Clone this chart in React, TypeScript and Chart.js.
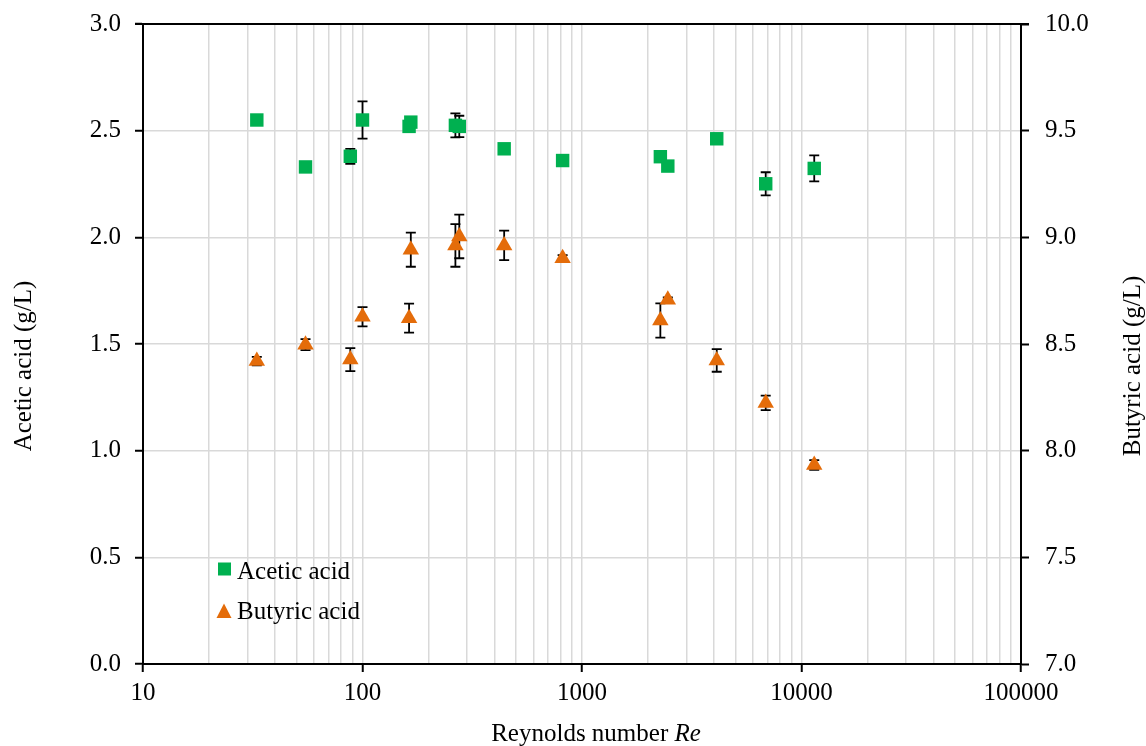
import React, { useEffect, useRef } from 'react';
import { Chart, registerables } from 'chart.js';

Chart.register(...registerables);

// ---- Data ----
const reynolds = [33, 55, 88, 100, 163, 166, 265, 276, 442, 816, 2275, 2460, 4110, 6870, 11430];
const aceticAcid = [2.55, 2.33, 2.38, 2.55, 2.52, 2.54, 2.525, 2.52, 2.415, 2.36, 2.378, 2.334, 2.462, 2.251, 2.323];
const aceticError = [0.01, 0.01, 0.035, 0.087, 0.02, 0.02, 0.056, 0.05, 0.01, 0.01, 0.01, 0.01, 0.02, 0.054, 0.061];
const butyricAcid = [8.42, 8.497, 8.427, 8.628, 8.621, 8.942, 8.962, 9.004, 8.962, 8.902, 8.61, 8.708, 8.423, 8.224, 7.933];
const butyricError = [0.02, 0.026, 0.054, 0.045, 0.068, 0.08, 0.1, 0.102, 0.069, 0.015, 0.08, 0.01, 0.053, 0.034, 0.023];

const xMajorTicks = [10, 100, 1000, 10000, 100000];
const leftTicks = [0, 0.5, 1, 1.5, 2, 2.5, 3];
const rightTicks = [7, 7.5, 8, 8.5, 9, 9.5, 10];

const seriesNames = ['Acetic acid', 'Butyric acid'];
const GREEN = '#00B050';
const ORANGE = '#E46C0A';
const FONT = "'Liberation Serif', 'Times New Roman', serif";
const FONT_SIZE = 25;

const xAllTicks: number[] = [];
for (let i = 0; i < xMajorTicks.length - 1; i++) {
  for (let m = 1; m <= 9; m++) xAllTicks.push(xMajorTicks[i] * m);
}
xAllTicks.push(xMajorTicks[xMajorTicks.length - 1]);

const errorLists: number[][] = [aceticError, butyricError];

const errorBarPlugin = {
  id: 'errorBars',
  beforeDatasetsDraw(chart: any) {
    const ctx = chart.ctx;
    const xScale = chart.scales.x;
    ctx.save();
    ctx.strokeStyle = '#000';
    ctx.lineWidth = 1.8;
    chart.data.datasets.forEach((ds: any, i: number) => {
      const yScale = chart.scales[ds.yAxisID];
      const errs = errorLists[i];
      ds.data.forEach((p: any, j: number) => {
        const e = errs[j];
        const x = xScale.getPixelForValue(p.x);
        const yt = yScale.getPixelForValue(p.y + e);
        const yb = yScale.getPixelForValue(p.y - e);
        const cap = 5;
        ctx.beginPath();
        ctx.moveTo(x, yt);
        ctx.lineTo(x, yb);
        ctx.moveTo(x - cap, yt);
        ctx.lineTo(x + cap, yt);
        ctx.moveTo(x - cap, yb);
        ctx.lineTo(x + cap, yb);
        ctx.stroke();
      });
    });
    ctx.restore();
  },
};

const annotationPlugin = {
  id: 'annotations',
  afterDraw(chart: any) {
    const ctx = chart.ctx;
    const area = chart.chartArea;
    ctx.save();
    ctx.fillStyle = '#000';
    ctx.font = `${FONT_SIZE}px ${FONT}`;
    ctx.textBaseline = 'middle';

    // Left axis title
    ctx.save();
    ctx.translate(24, 366);
    ctx.rotate(-Math.PI / 2);
    ctx.textAlign = 'center';
    ctx.fillText('Acetic acid (g/L)', 0, 0);
    ctx.restore();

    // Right axis title (reads bottom to top)
    ctx.save();
    ctx.translate(1133, 366);
    ctx.rotate(-Math.PI / 2);
    ctx.textAlign = 'center';
    ctx.fillText('Butyric acid (g/L)', 0, 0);
    ctx.restore();

    // X axis title with italic "Re"
    const part1 = 'Reynolds number ';
    const part2 = 'Re';
    ctx.font = `${FONT_SIZE}px ${FONT}`;
    const w1 = ctx.measureText(part1).width;
    ctx.font = `italic ${FONT_SIZE}px ${FONT}`;
    const w2 = ctx.measureText(part2).width;
    const cx = 596;
    const startX = cx - (w1 + w2) / 2;
    ctx.textAlign = 'left';
    ctx.textBaseline = 'alphabetic';
    ctx.font = `${FONT_SIZE}px ${FONT}`;
    ctx.fillText(part1, startX, 741);
    ctx.font = `italic ${FONT_SIZE}px ${FONT}`;
    ctx.fillText(part2, startX + w1, 741);

    // Legend
    ctx.font = `${FONT_SIZE}px ${FONT}`;
    ctx.fillStyle = GREEN;
    ctx.fillRect(218, 562.5, 13, 13);
    ctx.fillStyle = ORANGE;
    ctx.beginPath();
    ctx.moveTo(224, 603.5);
    ctx.lineTo(231.5, 618);
    ctx.lineTo(216.5, 618);
    ctx.closePath();
    ctx.fill();
    ctx.fillStyle = '#000';
    ctx.fillText(seriesNames[0], 237, 579);
    ctx.fillText(seriesNames[1], 237, 619);

    // Top border of plot area
    ctx.strokeStyle = '#000';
    ctx.lineWidth = 2;
    ctx.beginPath();
    ctx.moveTo(area.left - 8, area.top);
    ctx.lineTo(area.right + 8, area.top);
    ctx.stroke();
    ctx.restore();
  },
};

export default function App() {
  const canvasRef = useRef<HTMLCanvasElement | null>(null);

  useEffect(() => {
    const canvas = canvasRef.current;
    if (!canvas) return;
    const tickFont = { family: FONT, size: FONT_SIZE };
    const chart = new Chart(canvas, {
      type: 'scatter',
      data: {
        datasets: [
          {
            label: seriesNames[0],
            data: reynolds.map((x, i) => ({ x, y: aceticAcid[i] })),
            yAxisID: 'y',
            pointStyle: 'rect',
            pointRadius: 9.5,
            backgroundColor: GREEN,
            borderColor: GREEN,
            borderWidth: 0,
          },
          {
            label: seriesNames[1],
            data: reynolds.map((x, i) => ({ x, y: butyricAcid[i] })),
            yAxisID: 'y2',
            pointStyle: 'triangle',
            pointRadius: 9.5,
            backgroundColor: ORANGE,
            borderColor: ORANGE,
            borderWidth: 0,
          },
        ],
      },
      options: {
        responsive: false,
        animation: false,
        devicePixelRatio: 1,
        layout: { padding: { top: 24, left: 0, right: 0, bottom: 0 } },
        plugins: {
          legend: { display: false },
          tooltip: { enabled: false },
        },
        scales: {
          x: {
            type: 'logarithmic',
            position: 'bottom',
            min: 10,
            max: 100000,
            afterBuildTicks: (scale: any) => {
              scale.ticks = xAllTicks.map((v) => ({ value: v, major: xMajorTicks.includes(v) }));
            },
            afterFit: (scale: any) => {
              scale.height = 82;
            },
            ticks: {
              autoSkip: false,
              maxRotation: 0,
              color: '#000',
              font: tickFont,
              padding: 6,
              callback: (v: any) => (xMajorTicks.includes(Number(v)) ? String(v) : ''),
            },
            grid: {
              color: '#d9d9d9',
              lineWidth: 1.5,
              tickLength: 8,
              tickWidth: 2,
              tickColor: (c: any) =>
                c.tick && xMajorTicks.includes(c.tick.value) ? '#000' : 'rgba(0,0,0,0)',
            },
            border: { color: '#000', width: 2 },
          },
          y: {
            position: 'left',
            min: 0,
            max: 3,
            afterBuildTicks: (scale: any) => {
              scale.ticks = leftTicks.map((v) => ({ value: v }));
            },
            afterFit: (scale: any) => {
              scale.width = 143;
              scale.paddingTop = 10;
              scale.paddingBottom = 10;
            },
            ticks: {
              color: '#000',
              font: tickFont,
              padding: 14,
              callback: (v: any) => Number(v).toFixed(1),
            },
            grid: {
              color: '#d9d9d9',
              lineWidth: 1.5,
              tickLength: 8,
              tickWidth: 2,
              tickColor: '#000',
            },
            border: { color: '#000', width: 2 },
          },
          y2: {
            position: 'right',
            min: 7,
            max: 10,
            afterBuildTicks: (scale: any) => {
              scale.ticks = rightTicks.map((v) => ({ value: v }));
            },
            afterFit: (scale: any) => {
              scale.width = 125;
              scale.paddingTop = 10;
              scale.paddingBottom = 10;
            },
            ticks: {
              color: '#000',
              font: tickFont,
              padding: 16,
              callback: (v: any) => Number(v).toFixed(1),
            },
            grid: {
              drawOnChartArea: false,
              tickLength: 8,
              tickWidth: 2,
              tickColor: '#000',
            },
            border: { color: '#000', width: 2 },
          },
        },
      },
      plugins: [errorBarPlugin, annotationPlugin],
    } as any);
    return () => chart.destroy();
  }, []);

  return (
    <div style={{ position: 'fixed', left: 0, top: 0, width: 1146, height: 746, background: '#fff' }}>
      <canvas ref={canvasRef} width={1146} height={746} style={{ display: 'block' }} />
    </div>
  );
}
